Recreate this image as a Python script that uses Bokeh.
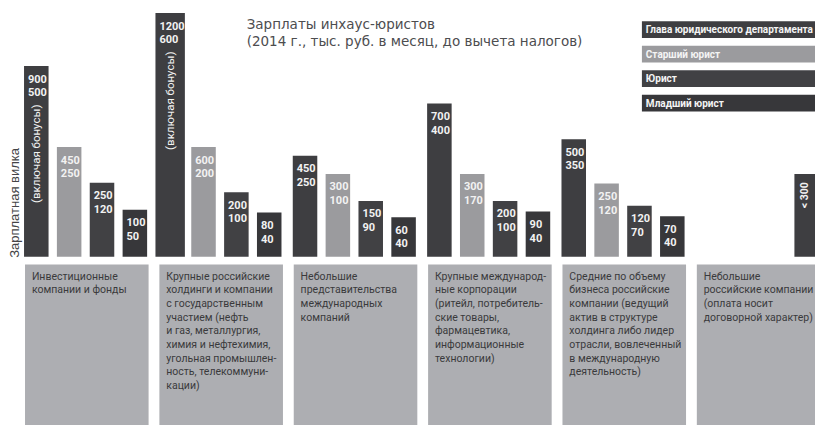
import math
from bokeh.plotting import figure
from bokeh.models import ColumnDataSource, Range1d
from bokeh.core.properties import value
from bokeh.embed import file_html
from bokeh.resources import INLINE

# ---------------- data ----------------
title_lines = ["Зарплаты инхаус-юристов",
               "(2014 г., тыс. руб. в месяц, до вычета налогов)"]
y_label = "Зарплатная вилка"
roles = ["Глава юридического департамента", "Старший юрист", "Юрист", "Младший юрист"]

segments = [
    ["Инвестиционные", "компании и фонды"],
    ["Крупные российские", "холдинги и компании", "с государственным", "участием (нефть",
     "и газ, металлургия,", "химия и нефтехимия,", "угольная промышлен-",
     "ность, телекоммуни-", "кации)"],
    ["Небольшие", "представительства", "международных", "компаний"],
    ["Крупные международ-", "ные корпорации", "(ритейл, потребитель-", "ские товары,",
     "фармацевтика,", "информационные", "технологии)"],
    ["Средние по объему", "бизнеса российские", "компании (ведущий", "актив в структуре",
     "холдинга либо лидер", "отрасли, вовлеченный", "в международную", "деятельность)"],
    ["Небольшие", "российские компании", "(оплата носит", "договорной характер)"],
]

salary_max = [[900, 450, 250, 100],
              [1200, 600, 200, 80],
              [450, 300, 150, 60],
              [700, 300, 200, 90],
              [500, 250, 120, 70]]
salary_min = [[500, 250, 120, 50],
              [600, 200, 100, 40],
              [250, 100, 90, 40],
              [400, 170, 100, 40],
              [350, 120, 70, 40]]
# visual bar heights as drawn in the infographic (not proportional to values)
bar_height = [[198, 114, 77, 49],
              [253, 114, 67, 46],
              [105, 86, 58, 41],
              [159, 86, 58, 47],
              [122, 76, 53, 42]]
bonus_note = "(включая бонусы)"
bonus_groups = [0, 1]
small_label = "< 300"
small_height = 86

# ---------------- style / layout ----------------
role_colors = ["#3e3e41", "#9b9b9e", "#414144", "#37373a"]
box_color = "#adaeb2"
box_text_color = "#3a3a3c"
GX0, GPITCH, SPITCH, BW = 24, 137, 33.5, 25

p = figure(width=815, height=425, x_range=Range1d(0, 831), y_range=Range1d(-175, 266),
           output_backend="svg", toolbar_location=None, min_border=0,
           x_axis_type=None, y_axis_type=None)
p.grid.visible = False
p.outline_line_color = None
p.background_fill_color = "white"
p.border_fill_color = "white"

# bars
bx, bw, btop, bcol, lx, t1, t2, y1, y2 = [], [], [], [], [], [], [], [], []
for g in range(len(salary_max)):
    for k in range(4):
        w = BW
        left = GX0 + GPITCH * g + SPITCH * k
        if g == 1 and k == 0:
            w = 30
            left -= 3
        h = bar_height[g][k]
        bx.append(left + w / 2)
        bw.append(w)
        btop.append(h)
        bcol.append(role_colors[k])
        lx.append(left + 4)
        t1.append(str(salary_max[g][k]))
        t2.append(str(salary_min[g][k]))
        y1.append(h - 13)
        y2.append(h - 27)

src = ColumnDataSource(dict(x=bx, w=bw, top=btop, color=bcol))
p.vbar(x="x", width="w", top="top", bottom=0, fill_color="color", line_color=None, source=src)

lab = ColumnDataSource(dict(x=lx + lx, y=y1 + y2, text=t1 + t2))
p.text(x="x", y="y", text="text", source=lab, text_color="#f2f2f2",
       text_font=value("Roboto"), text_font_style="bold",
       text_font_size="11px", text_baseline="middle", text_align="left")

# bonus notes (rotated)
nx, ny = [], []
for g in bonus_groups:
    idx = g * 4
    nx.append(bx[idx])
    ny.append(btop[idx] - 91)
p.text(x=nx, y=ny, text=[bonus_note] * len(nx), angle=math.pi / 2,
       text_color="#f2f2f2", text_font=value("Roboto"), text_font_size="11.5px",
       text_align="center", text_baseline="middle")

# last segment: single bar
sleft = GX0 + GPITCH * 5 + SPITCH * 3
p.vbar(x=[sleft + BW / 2], width=BW, top=[small_height], bottom=0,
       fill_color=role_colors[0], line_color=None)
p.text(x=[sleft + BW / 2 - 2], y=[small_height - 22], text=[small_label], angle=math.pi / 2,
       text_color="#f2f2f2", text_font=value("Roboto"), text_font_style="bold",
       text_font_size="10.5px", text_align="center", text_baseline="middle")

# segment boxes
for g, lines in enumerate(segments):
    left = GX0 + 1 + GPITCH * g
    p.quad(left=[left], right=[left + 126], top=[-8], bottom=[-180],
           fill_color=box_color, line_color=None)
    p.text(x=[left + 7] * len(lines), y=[-20 - 14.2 * i for i in range(len(lines))],
           text=lines, text_color=box_text_color, text_font=value("Roboto"),
           text_font_size="10.5px", text_baseline="middle", text_align="left")

# legend
for i, r in enumerate(roles):
    top = 244.5 - 25.4 * i
    p.quad(left=[654], right=[845], top=[top], bottom=[top - 17.5],
           fill_color=role_colors[i], line_color=None)
    p.text(x=[658], y=[top - 8.75], text=[r], text_color="#f4f4f4",
           text_font=value("Roboto"), text_font_style="bold",
           text_font_size="10px", text_baseline="middle", text_align="left")

# title
p.text(x=[251, 251], y=[242, 224], text=title_lines, text_color="#4d4d4f",
       text_font=value("DejaVu Sans"), text_font_size="13.5px",
       text_baseline="alphabetic", text_align="left")

# y label
p.text(x=[14], y=[-1], text=[y_label], angle=math.pi / 2, text_color="#444446",
       text_font=value("Liberation Sans"), text_font_size="13px",
       text_baseline="middle", text_align="left")

open("out.html", "w").write(file_html(p, INLINE))
